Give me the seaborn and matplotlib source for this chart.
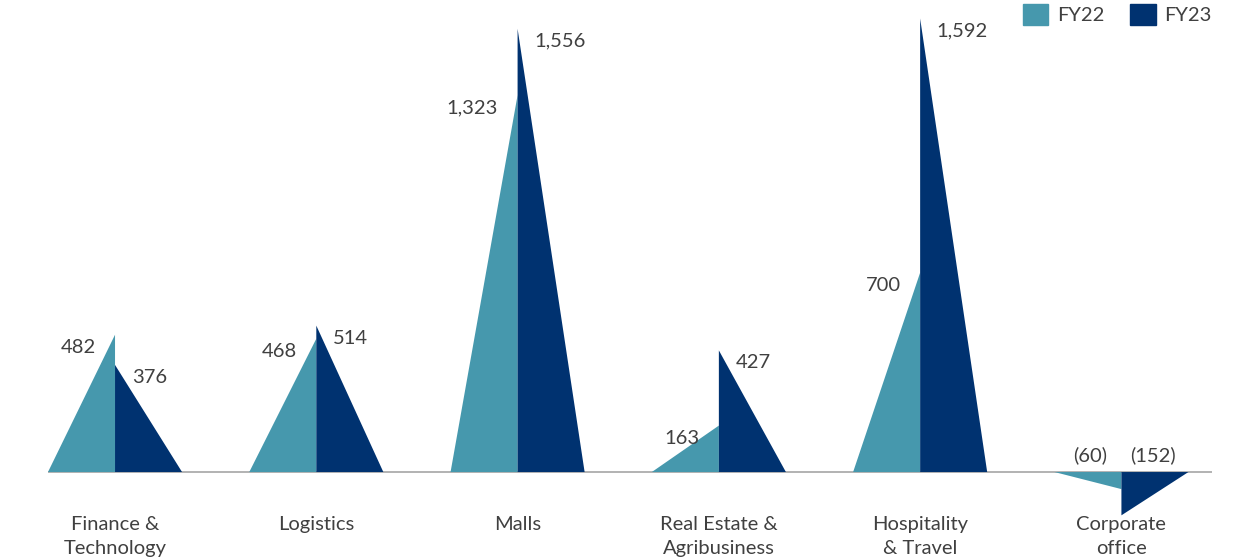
import matplotlib
matplotlib.use("Agg")
import matplotlib.pyplot as plt
from matplotlib.patches import Patch
import seaborn as sns

# ------------------------------------------------------------
#  Data
# ------------------------------------------------------------
categories = ["Finance &\nTechnology", "Logistics", "Malls",
              "Real Estate &\nAgribusiness", "Hospitality\n& Travel", "Corporate\noffice"]
fy22 = [482, 468, 1323, 163, 700, -60]
fy23 = [376, 514, 1556, 427, 1592, -152]
series_names = ["FY22", "FY23"]

COL22 = "#4698AD"
COL23 = "#003270"
TXT = "#404040"
FS = 14.5

sns.set_theme(style="white")
plt.rcParams["font.family"] = ["Lato", "DejaVu Sans"]

fig = plt.figure(figsize=(12.36, 5.59), dpi=100)
ax = fig.add_axes([48 / 1236, 30 / 559, (1212 - 48) / 1236, 527 / 559])

half = 0.333


def fmt(v):
    return f"({abs(v):,})" if v < 0 else f"{v:,}"


for i, (a, b) in enumerate(zip(fy22, fy23)):
    # FY22: rising edge from left base to the centre
    ax.fill([i - half, i, i], [0, a, 0], color=COL22, lw=0, zorder=2)
    # FY23: from the centre down to the right base
    ax.fill([i, i, i + half], [0, b, 0], color=COL23, lw=0, zorder=3)

    if a >= 0:
        ax.annotate(fmt(a), (i, a), xytext=(-14, -9), textcoords="offset points",
                    ha="right", va="center", fontsize=FS, color=TXT)
    else:
        ax.annotate(fmt(a), (i, 0), xytext=(-10, 12), textcoords="offset points",
                    ha="right", va="center", fontsize=FS, color=TXT)
    if b >= 0:
        ax.annotate(fmt(b), (i, b), xytext=(12, -9), textcoords="offset points",
                    ha="left", va="center", fontsize=FS, color=TXT)
    else:
        ax.annotate(fmt(b), (i, 0), xytext=(6, 12), textcoords="offset points",
                    ha="left", va="center", fontsize=FS, color=TXT)

    ax.annotate(categories[i], (i, 0), xytext=(0, -32), textcoords="offset points",
                ha="center", va="top", fontsize=FS, color=TXT, linespacing=1.45)

ax.axhline(0, color="#A6A6A6", lw=1.2, zorder=1)

ax.set_xlim(-half, 5.45)
ax.set_ylim(-200, 1650)
ax.set_xticks([])
ax.set_yticks([])
sns.despine(ax=ax, left=True, bottom=True)

handles = [Patch(color=COL22), Patch(color=COL23)]
fig.legend(handles, series_names, loc="upper right", bbox_to_anchor=(1212 / 1236, 1 - 4 / 559),
           ncol=2, frameon=False, fontsize=FS, handlelength=1.25, handleheight=1.25,
           handletextpad=0.45, columnspacing=1.3, borderpad=0, borderaxespad=0,
           labelcolor=TXT)

fig.savefig("out.png", dpi=100)
